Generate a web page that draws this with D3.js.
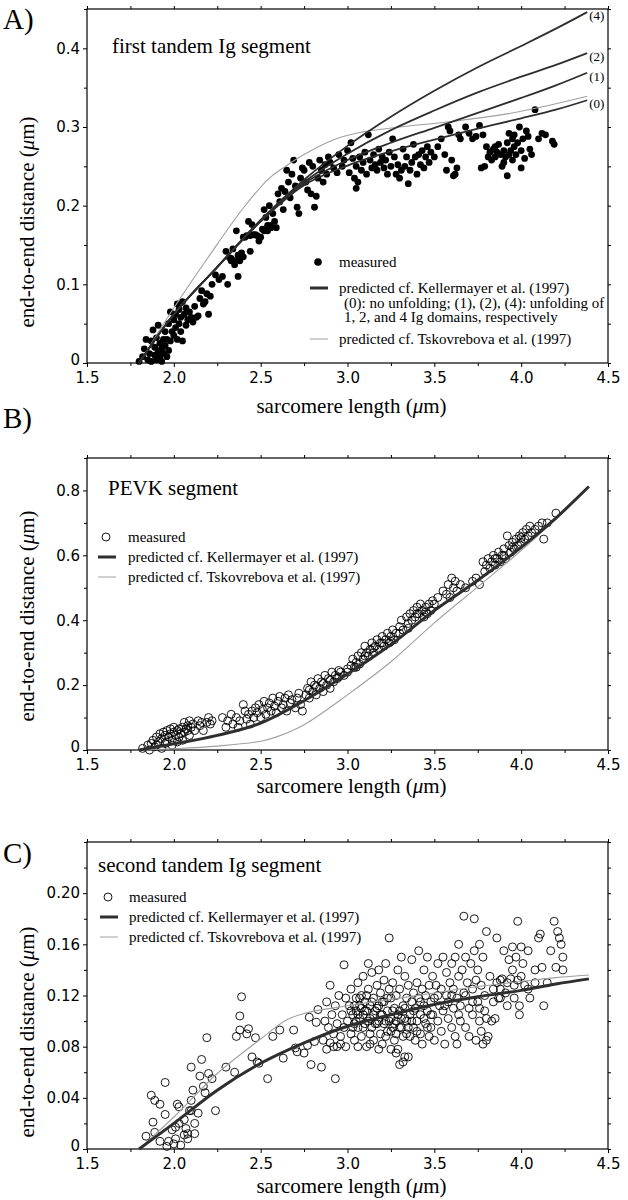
<!DOCTYPE html>
<html><head><meta charset="utf-8">
<script src="https://cdn.jsdelivr.net/npm/d3@7"></script>
<style>
body{margin:0;background:#fff;}
svg{display:block;background:#fff;}
.tick text{font-family:"DejaVu Sans",Verdana,sans-serif;font-size:15px;fill:#000;}
.serif{font-family:"Liberation Serif","Times New Roman",serif;fill:#000;}
</style></head><body>
<svg id="chart" width="628" height="1200"></svg>
<script>
// ---------- shared tick values ----------
const xTicks = [1.5, 2.0, 2.5, 3.0, 3.5, 4.0, 4.5];
const xMinorTicks = [1.75, 2.25, 2.75, 3.25, 3.75, 4.25];
const aYTicks = [0, 0.1, 0.2, 0.3, 0.4];
const aYMinor = [0.05, 0.15, 0.25, 0.35, 0.45];
const bYTicks = [0, 0.2, 0.4, 0.6, 0.8];
const bYMinor = [0.1, 0.3, 0.5, 0.7, 0.9];
const cYTicks = [0, 0.04, 0.08, 0.12, 0.16, 0.20];
const cYMinor = [0.02, 0.06, 0.10, 0.14, 0.18, 0.22, 0.24];

// ---------- Panel A: first tandem Ig segment ----------
const aKeller0 = [[1.8,0],[2.0,0.062],[2.25,0.122],[2.5,0.180],[2.75,0.226],[3.0,0.251],[3.25,0.269],[3.5,0.284],[3.75,0.298],[4.0,0.311],[4.2,0.322],[4.38,0.334]];
const aKeller1 = [[1.8,0],[2.0,0.062],[2.25,0.122],[2.5,0.180],[2.75,0.228],[3.0,0.258],[3.25,0.280],[3.5,0.299],[3.75,0.318],[4.0,0.337],[4.2,0.353],[4.38,0.369]];
const aKeller2 = [[1.8,0],[2.0,0.062],[2.25,0.122],[2.5,0.181],[2.75,0.230],[3.0,0.266],[3.25,0.296],[3.5,0.321],[3.75,0.344],[4.0,0.364],[4.2,0.379],[4.38,0.394]];
const aKeller4 = [[1.8,0],[2.0,0.062],[2.25,0.122],[2.5,0.182],[2.75,0.233],[3.0,0.276],[3.25,0.313],[3.5,0.346],[3.75,0.376],[4.0,0.403],[4.2,0.425],[4.38,0.446]];
const aKellerNames = ["(0)", "(1)", "(2)", "(4)"];
const aTskov = [[1.8,0],[2.0,0.070],[2.2,0.135],[2.4,0.197],[2.55,0.235],[2.65,0.251],[2.75,0.265],[2.9,0.282],[3.05,0.292],[3.3,0.300],[3.6,0.307],[3.9,0.316],[4.15,0.327],[4.38,0.339]];
const aMeasured = [
[1.80,0.002],[1.82,0.008],[1.83,0.018],[1.84,0.030],[1.85,0.004],[1.86,0.012],[1.87,0.028],[1.87,0.002],[1.88,0.042],[1.89,0.010],
[1.89,0.020],[1.90,0.004],[1.90,0.032],[1.91,0.015],[1.91,0.048],[1.92,0.008],[1.92,0.025],[1.93,0.018],[1.93,0.002],[1.94,0.030],
[1.94,0.012],[1.95,0.022],[1.95,0.040],[1.96,0.008],[1.96,0.030],[1.97,0.050],[1.97,0.016],[1.98,0.065],[1.98,0.028],[1.99,0.040],
[2.00,0.055],[2.00,0.035],[2.01,0.062],[2.01,0.045],[2.02,0.075],[2.02,0.030],[2.03,0.050],[2.03,0.068],[2.04,0.040],[2.04,0.058],
[2.05,0.078],[2.05,0.028],[2.06,0.062],[2.07,0.048],[2.07,0.070],[2.08,0.055],[2.09,0.065],[2.10,0.058],[2.11,0.052],[2.12,0.072],
[2.13,0.058],[2.14,0.060],[2.15,0.082],[2.16,0.092],[2.17,0.075],[2.18,0.078],[2.19,0.088],[2.20,0.062],[2.21,0.085],
[2.22,0.100],[2.24,0.112],[2.26,0.106],[2.28,0.110],[2.30,0.142],[2.31,0.100],[2.32,0.134],[2.33,0.130],[2.34,0.145],[2.35,0.125],
[2.36,0.168],[2.37,0.110],[2.38,0.130],[2.39,0.140],[2.40,0.135],[2.41,0.160],[2.42,0.162],[2.43,0.180],[2.44,0.142],[2.45,0.176],
[2.46,0.163],[2.47,0.163],[2.48,0.162],[2.49,0.155],[2.50,0.160],[2.51,0.170],[2.52,0.195],[2.53,0.185],[2.54,0.168],[2.55,0.200],
[2.56,0.175],[2.57,0.190],[2.58,0.180],[2.59,0.172],[2.60,0.215],[2.61,0.205],[2.62,0.222],[2.63,0.195],[2.64,0.218],[2.65,0.245],
[2.66,0.230],[2.67,0.210],[2.68,0.240],[2.69,0.258],[2.70,0.225],[2.71,0.198],[2.72,0.190],[2.73,0.235],[2.74,0.248],[2.75,0.245],
[2.76,0.230],[2.77,0.220],[2.78,0.255],[2.79,0.215],[2.80,0.250],[2.81,0.198],[2.82,0.212],[2.83,0.235],[2.84,0.258],[2.85,0.245],
[2.86,0.230],[2.87,0.252],[2.88,0.240],[2.89,0.262],[2.90,0.255],[2.92,0.248],[2.94,0.242],[2.95,0.265],[2.97,0.250],[2.98,0.258],
[2.40,0.160],[2.44,0.162],[2.52,0.168],[2.54,0.175],[2.56,0.172],[2.33,0.133],[2.35,0.130],[2.37,0.137],
[3.00,0.270],[3.01,0.242],[3.02,0.280],[3.03,0.260],[3.04,0.235],[3.05,0.222],[3.05,0.250],[3.06,0.230],[3.07,0.262],[3.08,0.245],
[3.09,0.255],[3.10,0.268],[3.11,0.240],[3.12,0.290],[3.13,0.258],[3.14,0.248],[3.15,0.265],[3.16,0.252],[3.17,0.245],[3.18,0.272],
[3.19,0.255],[3.20,0.262],[3.21,0.248],[3.22,0.258],[3.23,0.240],[3.24,0.268],[3.25,0.250],[3.26,0.285],[3.27,0.262],[3.28,0.240],
[3.29,0.252],[3.30,0.235],[3.31,0.245],[3.32,0.272],[3.33,0.250],[3.34,0.262],[3.35,0.228],[3.36,0.245],[3.37,0.255],[3.38,0.278],
[3.39,0.262],[3.40,0.240],[3.41,0.265],[3.42,0.252],[3.43,0.270],[3.44,0.248],[3.45,0.262],[3.46,0.275],[3.47,0.255],[3.48,0.268],
[3.50,0.262],[3.52,0.275],[3.54,0.285],[3.56,0.265],[3.57,0.245],[3.58,0.300],[3.59,0.295],[3.60,0.258],[3.61,0.238],[3.62,0.240],
[3.63,0.248],[3.64,0.290],[3.65,0.285],[3.68,0.300],[3.70,0.292],[3.72,0.285],[3.74,0.288],[3.76,0.302],[3.77,0.248],[3.78,0.290],
[3.79,0.250],[3.80,0.275],[3.81,0.262],[3.82,0.268],[3.83,0.258],[3.84,0.272],[3.85,0.262],[3.86,0.268],[3.87,0.278],[3.88,0.265],
[3.89,0.250],[3.90,0.270],[3.91,0.262],[3.92,0.238],[3.92,0.280],[3.93,0.292],[3.94,0.270],[3.95,0.285],[3.95,0.258],[3.96,0.275],
[3.97,0.265],[3.98,0.280],[3.99,0.300],[4.00,0.270],[4.00,0.248],[4.01,0.285],[4.02,0.260],[4.03,0.295],[4.04,0.288],[4.05,0.272],
[4.06,0.265],[4.08,0.322],[4.10,0.285],[4.12,0.292],[4.14,0.290],[4.18,0.282],[4.19,0.278],[3.93,0.265],[3.96,0.290],[3.90,0.255],[3.85,0.275]
];

// ---------- Panel B: PEVK segment ----------
const bKeller = [[1.8,0],[2.0,0.019],[2.25,0.045],[2.5,0.083],[2.75,0.152],[3.0,0.234],[3.25,0.325],[3.5,0.430],[3.75,0.523],[4.0,0.625],[4.2,0.715],[4.39,0.812]];
const bTskov = [[1.8,0],[2.0,0.004],[2.25,0.012],[2.5,0.027],[2.6,0.042],[2.75,0.078],[3.0,0.170],[3.25,0.272],[3.5,0.392],[3.75,0.503],[4.0,0.615],[4.2,0.712],[4.39,0.812]];
const bMeasured = [
[1.82,0.005],[1.85,0.015],[1.86,0.000],[1.87,0.020],[1.88,0.030],[1.89,0.010],[1.90,0.040],[1.91,0.025],[1.92,0.050],[1.93,0.035],
[1.94,0.055],[1.95,0.020],[1.95,0.045],[1.96,0.060],[1.97,0.040],[1.98,0.050],[1.98,0.065],[1.99,0.030],[2.00,0.055],[2.00,0.070],
[2.01,0.045],[2.02,0.060],[2.03,0.040],[2.03,0.065],[2.04,0.050],[2.05,0.070],[2.06,0.055],[2.06,0.085],[2.07,0.065],[2.08,0.060],
[2.08,0.075],[2.09,0.090],[2.10,0.070],[2.11,0.080],[2.12,0.060],[2.14,0.090],[2.15,0.075],[2.16,0.085],[2.17,0.060],[2.19,0.085],
[2.20,0.100],[2.21,0.080],[2.22,0.090],[1.96,0.025],[1.99,0.015],[2.02,0.025],[2.05,0.030],[1.93,0.005],[1.90,0.015],[2.09,0.045],
[2.28,0.100],[2.30,0.070],[2.31,0.090],[2.33,0.110],[2.34,0.080],[2.36,0.100],[2.37,0.070],[2.38,0.090],[2.40,0.140],[2.41,0.120],
[2.42,0.095],[2.43,0.110],[2.44,0.080],[2.45,0.120],[2.46,0.100],[2.47,0.130],[2.48,0.115],[2.49,0.140],[2.50,0.100],[2.51,0.125],
[2.52,0.150],[2.53,0.110],[2.54,0.130],[2.55,0.145],[2.56,0.120],[2.57,0.160],[2.58,0.135],[2.59,0.115],[2.60,0.150],[2.61,0.165],
[2.62,0.130],[2.63,0.140],[2.64,0.160],[2.65,0.120],[2.66,0.170],[2.67,0.145],[2.68,0.155],[2.70,0.130],[2.71,0.160],[2.72,0.175],
[2.73,0.140],[2.74,0.120],[2.76,0.170],[2.77,0.190],[2.78,0.160],[2.79,0.210],[2.80,0.180],[2.81,0.200],[2.82,0.170],[2.83,0.220],
[2.84,0.190],[2.85,0.210],[2.86,0.180],[2.87,0.230],[2.88,0.200],[2.89,0.220],[2.90,0.190],[2.91,0.240],[2.92,0.210],[2.93,0.230],
[2.94,0.220],[2.95,0.245],[2.96,0.240],[2.98,0.230],[3.00,0.250],[3.02,0.260],[3.03,0.280],[3.04,0.255],[3.05,0.270],[3.06,0.290],
[3.07,0.265],[3.08,0.300],[3.09,0.280],[3.10,0.320],[3.11,0.300],[3.12,0.290],[3.13,0.310],[3.14,0.330],[3.15,0.300],[3.16,0.320],
[3.17,0.340],[3.18,0.310],[3.19,0.330],[3.20,0.350],[3.21,0.320],[3.22,0.340],[3.23,0.360],[3.24,0.330],[3.25,0.350],[3.26,0.370],
[3.27,0.340],[3.28,0.360],[3.30,0.380],[3.31,0.400],[3.32,0.370],[3.34,0.410],[3.35,0.390],[3.36,0.420],[3.37,0.400],[3.38,0.430],
[3.39,0.410],[3.40,0.440],[3.41,0.420],[3.42,0.450],[3.43,0.430],[3.44,0.410],[3.45,0.440],[3.46,0.420],[3.47,0.450],[3.48,0.430],
[3.49,0.460],[3.52,0.470],[3.55,0.490],[3.57,0.480],[3.58,0.510],[3.59,0.470],[3.60,0.530],[3.61,0.500],[3.62,0.520],[3.63,0.490],
[3.65,0.510],[3.68,0.500],[3.72,0.520],[3.74,0.530],[3.76,0.510],[3.78,0.580],[3.79,0.550],[3.80,0.570],[3.81,0.590],[3.82,0.560],
[3.83,0.580],[3.84,0.600],[3.85,0.570],[3.86,0.590],[3.87,0.610],[3.88,0.580],[3.89,0.600],[3.90,0.620],[3.91,0.590],[3.92,0.660],
[3.93,0.630],[3.94,0.610],[3.95,0.640],[3.96,0.620],[3.97,0.650],[3.98,0.630],[3.99,0.660],[4.00,0.640],[4.01,0.670],[4.02,0.650],
[4.03,0.680],[4.04,0.660],[4.05,0.690],[4.06,0.670],[4.08,0.680],[4.10,0.690],[4.12,0.700],[4.13,0.650],[4.15,0.700],[4.20,0.730],
[2.78,0.185],[2.82,0.195],[2.86,0.205],[2.90,0.215],[2.95,0.225],[3.00,0.240],[3.05,0.255],[3.10,0.290],[3.15,0.315],[3.20,0.330],
[3.25,0.335],[3.30,0.360],[3.35,0.375],[3.40,0.420],[3.45,0.425],[3.50,0.450],[3.85,0.590],[3.90,0.600],[3.95,0.625],[4.00,0.655]
];

// ---------- Panel C: second tandem Ig segment ----------
const cKeller = [[1.8,0],[2.0,0.020],[2.25,0.046],[2.5,0.067],[2.75,0.083],[3.0,0.096],[3.25,0.105],[3.5,0.113],[3.75,0.119],[4.0,0.124],[4.2,0.129],[4.39,0.133]];
const cTskov = [[1.8,0],[2.0,0.025],[2.25,0.059],[2.5,0.086],[2.65,0.101],[2.75,0.106],[3.0,0.112],[3.25,0.117],[3.5,0.122],[3.75,0.127],[4.0,0.131],[4.2,0.134],[4.39,0.136]];
const cMeasured = [
[1.84,0.010],[1.87,0.042],[1.89,0.038],[1.92,0.035],[1.88,0.021],[1.89,0.013],[1.92,0.006],[1.95,0.027],[1.95,0.052],[1.96,0.002],
[1.97,0.006],[1.99,0.015],[2.00,0.004],[2.01,0.008],[2.02,0.035],[2.03,0.033],[2.04,0.003],[2.06,0.023],[2.06,0.011],[2.07,0.016],
[2.08,0.008],[2.09,0.030],[2.10,0.038],[2.10,0.064],[2.11,0.046],[2.12,0.012],[2.12,0.020],[2.14,0.028],[2.15,0.057],[2.16,0.070],
[2.17,0.049],[2.18,0.044],[2.19,0.087],[2.20,0.059],[2.22,0.055],[2.24,0.030],[2.10,0.030],[2.08,0.012],[2.03,0.020],[2.01,0.017],
[2.30,0.064],[2.35,0.060],[2.36,0.088],[2.38,0.104],[2.39,0.119],[2.38,0.093],[2.42,0.090],[2.43,0.094],[2.45,0.072],[2.47,0.087],
[2.48,0.068],[2.49,0.067],[2.54,0.055],[2.57,0.088],[2.61,0.093],[2.63,0.071],[2.69,0.093],[2.70,0.079],[2.71,0.076],[2.75,0.075],
[2.77,0.081],[2.78,0.103],[2.79,0.066],[2.81,0.084],[2.83,0.109],[2.85,0.064],[2.82,0.099],[2.93,0.055],[2.98,0.144],
[2.86,0.085],[2.87,0.100],[2.88,0.078],[2.88,0.115],[2.89,0.095],[2.90,0.083],[2.90,0.128],[2.91,0.105],[2.92,0.090],[2.93,0.112],
[2.94,0.080],[2.94,0.098],[2.95,0.120],[2.96,0.088],[2.97,0.105],[2.98,0.095],[2.99,0.118],[2.99,0.080],
[3.00,0.100],[3.01,0.112],[3.02,0.090],[3.02,0.125],[3.03,0.105],[3.04,0.098],[3.04,0.085],[3.05,0.118],[3.05,0.108],[3.06,0.130],
[3.06,0.095],[3.07,0.112],[3.07,0.102],[3.08,0.120],[3.08,0.088],[3.09,0.105],[3.09,0.135],[3.10,0.115],[3.10,0.098],[3.11,0.108],
[3.11,0.080],[3.12,0.125],[3.12,0.145],[3.13,0.102],[3.13,0.112],[3.14,0.095],[3.14,0.138],[3.15,0.118],[3.15,0.085],[3.16,0.108],
[3.17,0.128],[3.17,0.098],[3.18,0.140],[3.18,0.112],[3.19,0.090],[3.19,0.122],[3.20,0.105],[3.20,0.082],[3.21,0.132],[3.21,0.115],
[3.22,0.100],[3.22,0.145],[3.23,0.108],[3.23,0.092],[3.24,0.125],[3.24,0.165],[3.25,0.102],[3.25,0.118],[3.26,0.095],[3.26,0.130],
[3.27,0.110],[3.27,0.085],[3.28,0.120],[3.28,0.100],[3.29,0.140],[3.29,0.078],[3.30,0.108],[3.30,0.125],[3.31,0.095],[3.31,0.150],
[3.32,0.112],[3.32,0.068],[3.33,0.102],[3.33,0.135],[3.34,0.118],[3.34,0.090],[3.35,0.072],[3.35,0.128],[3.36,0.105],[3.37,0.148],
[3.37,0.115],[3.38,0.095],[3.38,0.122],[3.39,0.085],[3.39,0.110],[3.40,0.130],[3.40,0.100],[3.41,0.155],[3.41,0.118],[3.42,0.090],
[3.42,0.105],[3.43,0.125],[3.43,0.082],[3.44,0.112],[3.44,0.140],[3.45,0.098],[3.45,0.120],[3.46,0.108],[3.46,0.150],[3.47,0.088],
[3.47,0.128],[3.48,0.115],[3.48,0.095],[3.49,0.135],[3.49,0.105],[3.50,0.118],[3.50,0.085],[3.51,0.128],[3.52,0.100],[3.52,0.145],
[3.53,0.112],[3.54,0.092],[3.54,0.125],[3.55,0.150],[3.55,0.108],[3.56,0.082],[3.57,0.120],[3.57,0.138],[3.58,0.102],[3.58,0.115],
[3.59,0.130],[3.60,0.095],[3.60,0.145],[3.61,0.110],[3.61,0.125],[3.62,0.088],[3.62,0.150],[3.63,0.118],[3.63,0.082],[3.64,0.135],
[3.64,0.160],[3.65,0.112],[3.65,0.100],[3.66,0.140],[3.67,0.182],[3.67,0.122],[3.68,0.095],[3.68,0.150],[3.69,0.130],[3.70,0.110],
[3.70,0.088],[3.71,0.145],[3.72,0.125],[3.72,0.105],[3.73,0.180],[3.73,0.155],[3.74,0.132],[3.74,0.085],[3.75,0.140],[3.75,0.115],
[3.76,0.100],[3.76,0.160],[3.77,0.128],[3.77,0.092],[3.78,0.082],[3.78,0.150],[3.79,0.108],[3.79,0.120],[3.80,0.085],[3.80,0.170],
[3.81,0.088],[3.82,0.135],[3.83,0.100],[3.84,0.115],[3.85,0.102],[3.86,0.165],[3.86,0.130],[3.87,0.118],[3.88,0.125],[3.89,0.133],
[3.90,0.155],[3.91,0.122],[3.92,0.112],[3.93,0.148],[3.94,0.133],[3.95,0.158],[3.95,0.140],[3.96,0.118],[3.97,0.150],[3.98,0.178],
[3.98,0.132],[3.99,0.112],[3.99,0.105],[4.00,0.158],[4.01,0.145],[4.02,0.128],[4.04,0.155],[4.05,0.118],[4.08,0.140],[4.10,0.165],
[4.11,0.168],[4.12,0.142],[4.13,0.112],[4.15,0.130],[4.17,0.155],[4.19,0.178],[4.20,0.142],[4.21,0.170],[4.22,0.165],[4.23,0.160],
[4.24,0.150],[4.24,0.140],[3.88,0.132],[2.92,0.080],[2.96,0.082],[3.06,0.080],[3.13,0.082],[3.18,0.078],[3.25,0.078],[3.28,0.075],
[3.30,0.066],[3.33,0.072],
[3.02,0.108],[3.03,0.095],[3.04,0.112],[3.05,0.100],[3.06,0.105],[3.07,0.118],[3.08,0.110],[3.09,0.095],[3.10,0.108],[3.11,0.120],
[3.12,0.100],[3.13,0.090],[3.14,0.115],[3.15,0.105],[3.16,0.098],[3.17,0.110],[3.18,0.100],[3.19,0.105],[3.20,0.115],[3.21,0.098],
[3.22,0.088],[3.23,0.118],[3.24,0.100],[3.25,0.092],[3.26,0.108],[3.27,0.098],[3.28,0.090],[3.29,0.105],[3.30,0.095],[3.31,0.102],
[3.32,0.088],[3.33,0.110],[3.34,0.100],[3.35,0.095],[3.36,0.088],[3.37,0.100],[3.38,0.108],[3.40,0.092],[3.42,0.115],[3.44,0.102],
[3.46,0.095],[3.48,0.105],[3.52,0.120],[3.56,0.112],[3.60,0.120],[3.64,0.105],[3.68,0.120],[3.72,0.115],[3.76,0.110],[3.80,0.102],
[3.84,0.125],[3.88,0.118],[3.92,0.130],[3.96,0.128],[4.00,0.135],[4.04,0.125],[4.08,0.130]
];

// ---------- text ----------
const xTitle = "sarcomere length (";
const yTitle = "end-to-end distance (";
const legendMeasured = "measured";
const legendKeller = "predicted cf. Kellermayer et al. (1997)";
const legendTskov = "predicted cf. Tskovrebova et al. (1997)";
const aNote1 = "(0): no unfolding; (1), (2), (4): unfolding of";
const aNote2 = "1, 2, and 4 Ig domains, respectively";

// ---------- drawing ----------
const svg = d3.select("#chart");
const x = d3.scaleLinear().domain([1.5, 4.5]).range([87, 608]);
const KELLER_COLOR = "#2e2e2e", TSKOV_COLOR = "#a0a0a0";

function addMu(sel, before) {
  sel.append("tspan").text(before);
  sel.append("tspan").attr("font-style", "italic").text("\u03bc");
  sel.append("tspan").text("m)");
}

function drawPanel(p) {
  const y = d3.scaleLinear().domain(p.yDomain).range(p.yRange);
  const g = svg.append("g");
  const [x0, x1] = x.range();
  const yb = y.range()[0], yt = y.range()[1];

  g.append("rect").attr("x", x0).attr("y", yt).attr("width", x1 - x0).attr("height", yb - yt)
    .attr("fill", "none").attr("stroke", "#000").attr("stroke-width", 1.2);

  const fmtX = d3.format(".1f");
  g.append("g").attr("transform", `translate(0,${yb})`)
    .call(d3.axisBottom(x).tickValues(xTicks).tickSize(4).tickPadding(5).tickFormat(fmtX))
    .call(s => s.select(".domain").remove());
  g.append("g").attr("transform", `translate(0,${yb})`)
    .call(d3.axisBottom(x).tickValues(xMinorTicks).tickSize(3).tickFormat(""))
    .call(s => s.select(".domain").remove());
  g.append("g").attr("transform", `translate(0,${yt})`)
    .call(d3.axisTop(x).tickValues(xTicks.concat(xMinorTicks)).tickSize(3).tickFormat(""))
    .call(s => s.select(".domain").remove());
  g.append("g").attr("transform", `translate(${x0},0)`)
    .call(d3.axisLeft(y).tickValues(p.yTicks).tickSize(4).tickPadding(3).tickFormat(p.yFmt))
    .call(s => s.select(".domain").remove())
    .call(s => s.selectAll(".tick text").attr("dy", d => d === 0 ? "0.1em" : "0.32em"));
  g.append("g").attr("transform", `translate(${x0},0)`)
    .call(d3.axisLeft(y).tickValues(p.yMinor).tickSize(3).tickFormat(""))
    .call(s => s.select(".domain").remove());
  g.append("g").attr("transform", `translate(${x1},0)`)
    .call(d3.axisRight(y).tickValues(p.yTicks.concat(p.yMinor)).tickSize(3).tickFormat(""))
    .call(s => s.select(".domain").remove());
  g.selectAll(".tick line").attr("stroke", "#000");

  const pts = g.append("g");
  if (p.filled) {
    pts.selectAll("circle").data(p.measured).join("circle")
      .attr("cx", d => x(d[0])).attr("cy", d => y(d[1])).attr("r", 3.4).attr("fill", "#000");
  } else {
    pts.selectAll("circle").data(p.measured).join("circle")
      .attr("cx", d => x(d[0])).attr("cy", d => y(d[1])).attr("r", 4)
      .attr("fill", "none").attr("stroke", "#000").attr("stroke-width", 0.9);
  }

  const line = d3.line().x(d => x(d[0])).y(d => y(d[1])).curve(d3.curveCatmullRom.alpha(0.5));
  g.append("path").attr("d", line(p.tskov)).attr("fill", "none")
    .attr("stroke", TSKOV_COLOR).attr("stroke-width", 1.1);
  p.keller.forEach(k => {
    g.append("path").attr("d", line(k)).attr("fill", "none")
      .attr("stroke", KELLER_COLOR).attr("stroke-width", p.kellerWidth);
  });
  if (p.kellerNames) {
    p.keller.forEach((k, i) => {
      const end = k[k.length - 1];
      g.append("text").attr("class", "serif").attr("font-size", 13)
        .attr("x", x(end[0]) + 2).attr("y", y(end[1]) + 8)
        .text(p.kellerNames[i]);
    });
  }

  g.append("text").attr("class", "serif").attr("font-size", 29)
    .attr("x", 3).attr("y", p.labelY).text(p.label);
  g.append("text").attr("class", "serif").attr("font-size", 21)
    .attr("x", p.titleX).attr("y", p.titleY).text(p.title);
  g.append("text").attr("class", "serif").attr("font-size", 21).attr("text-anchor", "middle")
    .attr("x", (x0 + x1) / 2 + 4).attr("y", p.xTitleY).call(s => addMu(s, xTitle));
  g.append("text").attr("class", "serif").attr("font-size", 21).attr("text-anchor", "middle")
    .attr("transform", `translate(34,${p.yTitleC}) rotate(-90)`).call(s => addMu(s, yTitle));

  const L = p.legend;
  const lg = g.append("g").attr("class", "serif");
  if (p.filled) {
    lg.append("circle").attr("cx", L.sym + 8).attr("cy", L.rows[0]).attr("r", 3.8).attr("fill", "#000");
  } else {
    lg.append("circle").attr("cx", L.sym + 8).attr("cy", L.rows[0]).attr("r", 4)
      .attr("fill", "none").attr("stroke", "#000").attr("stroke-width", 0.9);
  }
  lg.append("line").attr("x1", L.sym).attr("x2", L.sym + 18).attr("y1", L.rows[1]).attr("y2", L.rows[1])
    .attr("stroke", KELLER_COLOR).attr("stroke-width", 3);
  const lastRow = L.rows[L.rows.length - 1];
  lg.append("line").attr("x1", L.sym).attr("x2", L.sym + 18).attr("y1", lastRow).attr("y2", lastRow)
    .attr("stroke", TSKOV_COLOR).attr("stroke-width", 1);
  p.legendTexts.forEach((t, i) => {
    lg.append("text").attr("font-size", 15).attr("x", L.text + (t.indent || 0)).attr("y", L.rows[i] + 5).text(t.s);
  });
}

drawPanel({
  yDomain: [0, 0.45], yRange: [363, 9], yTicks: aYTicks, yMinor: aYMinor,
  yFmt: d => d === 0 ? "0" : d3.format(".1f")(d),
  measured: aMeasured, filled: true, tskov: aTskov,
  keller: [aKeller0, aKeller1, aKeller2, aKeller4], kellerNames: aKellerNames, kellerWidth: 1.8,
  label: "A)", labelY: 29, title: "first tandem Ig segment", titleX: 112, titleY: 53,
  xTitleY: 413, yTitleC: 222,
  legend: { sym: 310, text: 339, rows: [262, 288, 303, 317, 339] },
  legendTexts: [{ s: legendMeasured }, { s: legendKeller }, { s: aNote1, indent: 5 }, { s: aNote2, indent: 5 }, { s: legendTskov }]
});

drawPanel({
  yDomain: [0, 0.9], yRange: [750, 458], yTicks: bYTicks, yMinor: bYMinor,
  yFmt: d => d === 0 ? "0" : d3.format(".1f")(d),
  measured: bMeasured, filled: false, tskov: bTskov,
  keller: [bKeller], kellerWidth: 3,
  label: "B)", labelY: 428, title: "PEVK segment", titleX: 108, titleY: 495,
  xTitleY: 793, yTitleC: 616,
  legend: { sym: 98, text: 128, rows: [537, 557, 577] },
  legendTexts: [{ s: legendMeasured }, { s: legendKeller }, { s: legendTskov }]
});

drawPanel({
  yDomain: [0, 0.24], yRange: [1149, 842], yTicks: cYTicks, yMinor: cYMinor,
  yFmt: d => d === 0 ? "0" : d3.format(".2f")(d),
  measured: cMeasured, filled: false, tskov: cTskov,
  keller: [cKeller], kellerWidth: 3,
  label: "C)", labelY: 863, title: "second tandem Ig segment", titleX: 98, titleY: 872,
  xTitleY: 1193, yTitleC: 1032,
  legend: { sym: 100, text: 129, rows: [897, 917, 937] },
  legendTexts: [{ s: legendMeasured }, { s: legendKeller }, { s: legendTskov }]
});
</script>
</body></html>
